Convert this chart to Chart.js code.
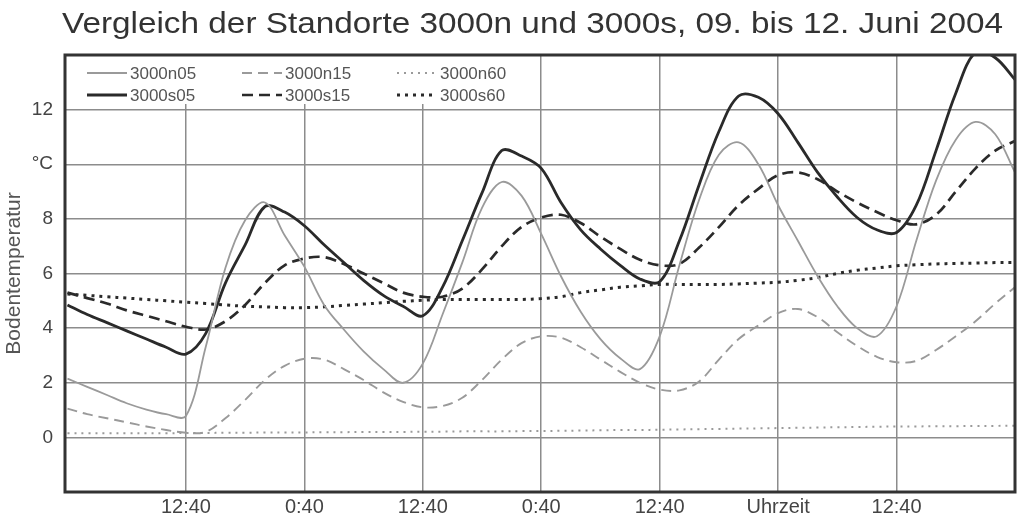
<!DOCTYPE html>
<html>
<head>
<meta charset="utf-8">
<script src="https://cdn.jsdelivr.net/npm/chart.js@4/dist/chart.umd.min.js"></script>
<style>
  body { margin: 0; background: #fff; }
  #wrap { width: 1017px; height: 522px; }
</style>
</head>
<body>
<div id="wrap"><canvas id="lineChart" width="1017" height="522"></canvas></div>
<script>
// hours since 0:40 on 09.06.2004, one reading every 2 h
const hours = [0, 2, 4, 6, 8, 10, 12, 14, 16, 18, 20, 22, 24,
  26, 28, 30, 32, 34, 36, 38, 40, 42, 44, 46, 48,
  50, 52, 54, 56, 58, 60, 62, 64, 66, 68, 70, 72,
  74, 76, 78, 80, 82, 84, 86, 88, 90, 92, 94, 96];

const n05 = [2.15, 1.85, 1.55, 1.25, 1.02, 0.85, 0.78, 3.3, 6.2, 7.95, 8.6, 7.4, 6.25,
  4.85, 3.95, 3.15, 2.5, 2.0, 2.7, 4.5, 6.4, 8.4, 9.35, 8.85, 7.45,
  5.9, 4.6, 3.6, 2.9, 2.5, 3.7, 6.3, 8.7, 10.35, 10.8, 10.0, 8.5,
  7.2, 5.9, 4.8, 4.0, 3.7, 4.8, 7.2, 9.4, 10.9, 11.55, 11.1, 9.7];
const n15 = [1.05, 0.85, 0.7, 0.55, 0.4, 0.27, 0.17, 0.2, 0.7, 1.37, 2.1, 2.62, 2.88,
  2.85, 2.5, 2.1, 1.65, 1.3, 1.1, 1.15, 1.45, 2.1, 2.85, 3.45, 3.7,
  3.65, 3.3, 2.85, 2.4, 2.0, 1.75, 1.72, 2.05, 2.85, 3.6, 4.1, 4.55,
  4.7, 4.4, 3.85, 3.35, 2.95, 2.75, 2.8, 3.2, 3.7, 4.25, 4.9, 5.5];
const n60 = [0.15, 0.15, 0.15, 0.15, 0.15, 0.15, 0.16, 0.16, 0.17, 0.17, 0.18, 0.18, 0.18,
  0.19, 0.19, 0.2, 0.2, 0.2, 0.21, 0.21, 0.22, 0.22, 0.22, 0.23, 0.23,
  0.24, 0.25, 0.26, 0.27, 0.27, 0.28, 0.29, 0.3, 0.31, 0.32, 0.33, 0.34,
  0.35, 0.36, 0.37, 0.38, 0.39, 0.4, 0.4, 0.41, 0.41, 0.42, 0.42, 0.43];
const s05 = [4.85, 4.5, 4.2, 3.9, 3.6, 3.3, 3.05, 3.8, 5.65, 7.05, 8.45, 8.25, 7.75,
  7.05, 6.4, 5.75, 5.2, 4.8, 4.45, 5.5, 7.2, 8.95, 10.5, 10.3, 9.85,
  8.6, 7.6, 6.9, 6.3, 5.8, 5.7, 7.2, 9.25, 11.2, 12.5, 12.45, 11.85,
  10.8, 9.7, 8.8, 8.05, 7.6, 7.5, 8.5, 10.5, 12.6, 14.1, 13.9, 13.1];
const s15 = [5.3, 5.1, 4.9, 4.65, 4.45, 4.25, 4.05, 3.95, 4.25, 4.85, 5.65, 6.3, 6.55,
  6.6, 6.35, 6.0, 5.65, 5.3, 5.15, 5.15, 5.45, 6.15, 7.0, 7.7, 8.05,
  8.15, 7.85, 7.35, 6.9, 6.5, 6.3, 6.35, 6.95, 7.7, 8.5, 9.1, 9.6,
  9.7, 9.45, 9.0, 8.6, 8.25, 7.95, 7.8, 8.15, 9.0, 9.85, 10.5, 10.85];
const s60 = [5.25, 5.2, 5.15, 5.1, 5.05, 5.0, 4.95, 4.9, 4.85, 4.8, 4.78, 4.75, 4.75,
  4.78, 4.83, 4.88, 4.93, 4.98, 5.02, 5.05, 5.05, 5.05, 5.05, 5.05, 5.08,
  5.15, 5.3, 5.4, 5.5, 5.55, 5.6, 5.6, 5.6, 5.6, 5.62, 5.65, 5.68,
  5.75, 5.85, 6.0, 6.12, 6.2, 6.28, 6.32, 6.35, 6.37, 6.38, 6.4, 6.4];

const tickHours = [12, 24, 36, 48, 60, 72, 84];
const tickLabels = ['12:40', '0:40', '12:40', '0:40', '12:40', 'Uhrzeit', '12:40'];
const yTicks = [0, 2, 4, 6, 8, 10, 12];
const yTickLabels = ['0', '2', '4', '6', '8', '°C', '12'];

const titleText = 'Vergleich der Standorte 3000n und 3000s, 09. bis 12. Juni 2004';
const FONT = '"Liberation Sans", Arial, Helvetica, sans-serif';
const light = '#9a9a9a';
const dark = '#2a2a2a';

const pts = vals => vals.map((v, i) => ({ x: hours[i], y: v }));

const datasets = [
  { label: '3000n05', data: pts(n05), borderColor: light, borderWidth: 1.8, borderDash: [] },
  { label: '3000n15', data: pts(n15), borderColor: light, borderWidth: 1.9, borderDash: [10, 6] },
  { label: '3000n60', data: pts(n60), borderColor: light, borderWidth: 2, borderDash: [2, 5] },
  { label: '3000s05', data: pts(s05), borderColor: dark, borderWidth: 2.8, borderDash: [] },
  { label: '3000s15', data: pts(s15), borderColor: dark, borderWidth: 2.7, borderDash: [11, 6] },
  { label: '3000s60', data: pts(s60), borderColor: dark, borderWidth: 3, borderDash: [3, 5] }
];

// legend inside the plot, title and frame
const extras = {
  id: 'extras',
  afterDatasetsDraw(chart) {
    const { ctx, chartArea: a } = chart;
    ctx.save();
    ctx.fillStyle = '#fff';
    ctx.fillRect(a.left, a.top, 472, 49);
    const colX = [22, 177, 332];
    const rowY = [18, 40];
    chart.data.datasets.forEach((ds, i) => {
      const x = a.left + colX[i % 3];
      const y = a.top + rowY[Math.floor(i / 3)];
      ctx.strokeStyle = ds.borderColor;
      ctx.lineWidth = ds.borderWidth;
      ctx.setLineDash(ds.borderDash);
      ctx.beginPath();
      ctx.moveTo(x, y);
      ctx.lineTo(x + 40, y);
      ctx.stroke();
      ctx.setLineDash([]);
      ctx.fillStyle = '#555';
      ctx.font = '17px ' + FONT;
      ctx.textBaseline = 'middle';
      ctx.fillText(ds.label, x + 43, y + 1);
    });
    ctx.restore();
  },
  afterDraw(chart) {
    const { ctx, chartArea: a } = chart;
    ctx.save();
    ctx.strokeStyle = '#333';
    ctx.lineWidth = 3;
    ctx.strokeRect(a.left, a.top, a.right - a.left, a.bottom - a.top);
    // title, stretched a little to the width it has in the original
    ctx.fillStyle = '#333';
    ctx.font = '29px ' + FONT;
    ctx.textBaseline = 'alphabetic';
    const w = ctx.measureText(titleText).width;
    const sx = 941 / w;
    ctx.translate(62, 33);
    ctx.scale(sx, 1);
    ctx.fillText(titleText, 0, 0);
    ctx.restore();
  }
};

new Chart(document.getElementById('lineChart'), {
  type: 'line',
  data: { datasets: datasets },
  plugins: [extras],
  options: {
    responsive: false,
    animation: false,
    devicePixelRatio: 1,
    layout: { padding: { top: 55, right: 2, bottom: 0, left: 0 } },
    elements: {
      point: { radius: 0 },
      line: { tension: 0.35, fill: false }
    },
    plugins: { legend: { display: false }, tooltip: { enabled: false } },
    scales: {
      x: {
        type: 'linear',
        min: -0.25,
        max: 96,
        afterBuildTicks: scale => { scale.ticks = tickHours.map(v => ({ value: v })); },
        afterFit: scale => { scale.height = 30; },
        ticks: {
          autoSkip: false,
          maxRotation: 0,
          padding: 3,
          color: '#444',
          font: { family: FONT, size: 20 },
          callback: (v, i) => tickLabels[i]
        },
        grid: { color: '#8c8c8c', lineWidth: 1.5, drawTicks: false },
        border: { display: false }
      },
      y: {
        min: -2,
        max: 14,
        afterFit: scale => { scale.width = 65; },
        ticks: {
          stepSize: 2,
          padding: 12,
          color: '#444',
          font: { family: FONT, size: 19 },
          callback: v => {
            const k = yTicks.indexOf(v);
            return k >= 0 ? yTickLabels[k] : '';
          }
        },
        grid: { color: '#8c8c8c', lineWidth: 1.5, drawTicks: false },
        border: { display: false },
        title: {
          display: true,
          text: 'Bodentemperatur',
          color: '#555',
          font: { family: FONT, size: 21 },
          padding: { top: 2, bottom: 0 }
        }
      }
    }
  }
});
</script>
</body>
</html>
